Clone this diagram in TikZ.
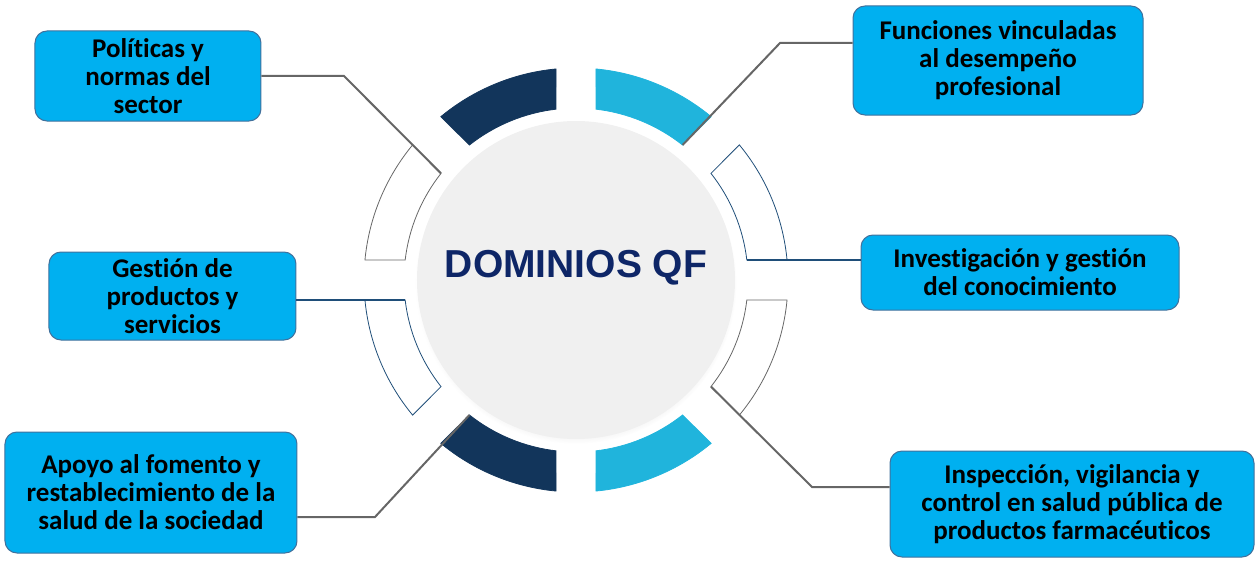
\documentclass[tikz,border=0pt]{standalone}
\usepackage{fontspec}
\setmainfont{Carlito}[Ligatures={NoCommon}]
\newfontfamily\titlefont{Liberation Sans}
\usetikzlibrary{shadows}
\definecolor{boxblue}{HTML}{00B0F0}
\definecolor{boxline}{HTML}{41719C}
\definecolor{darkseg}{HTML}{12355B}
\definecolor{lightseg}{HTML}{20B4DC}
\definecolor{navytext}{HTML}{0E2667}
\definecolor{blueline}{HTML}{1F4E79}
\definecolor{grayline}{HTML}{666666}

\begin{document}
\begin{tikzpicture}[x=1pt, y=1pt,
  main/.style = {draw=boxline, line width=1pt, fill=boxblue, rounded corners=12pt, align=center, font=\fontsize{27}{28}\selectfont\bfseries, inner sep=0pt},
  gline/.style = {draw=grayline, line width=2pt},
  bline/.style = {draw=blueline, line width=2pt}]
\useasboundingbox (-576,-280) rectangle (679,280);

% ring of eight segments
\foreach \k/\fillc/\linec in {0/white/blueline, 1/lightseg/lightseg, 2/darkseg/darkseg, 3/white/grayline,
    4/white/blueline, 5/darkseg/darkseg, 6/lightseg/lightseg, 7/white/grayline}
  \filldraw[fill=\fillc, draw=\linec, line width=0.8pt] ({45*\k+5.4}:212) arc ({45*\k+5.4}:{45*\k+39.6}:212)
    -- ({45*\k+38.3}:172) arc ({45*\k+38.3}:{45*\k+6.7}:172) -- cycle;

% centre
\node[circle, fill=black!6, minimum size=318pt, circular drop shadow={shadow scale=1.01, shadow xshift=0pt, shadow yshift=-3pt, opacity=0.25}] (0) at (0,0) {};
\node[font=\titlefont\fontsize{39}{39}\selectfont\bfseries, text=navytext] (t) at (0,12) {DOMINIOS QF};

% segment corners
\coordinate (p1) at (141.7:172);
\coordinate (p2) at (51.7:172);
\coordinate (p3) at (186.7:172);
\coordinate (p4) at (6.7:172);
\coordinate (p5) at (231.7:172);
\coordinate (p6) at (321.7:172);

\node[main, minimum width=226pt, minimum height=90pt] (1) at (-428,204) {Políticas y\\normas del\\sector};
\node[main, minimum width=290pt, minimum height=109pt] (2) at (422,219.5) {Funciones vinculadas\\al desempeño\\profesional};
\node[main, minimum width=247pt, minimum height=88pt] (3) at (-403.5,-16) {Gestión de\\productos y\\servicios};
\node[main, minimum width=318pt, minimum height=75pt] (4) at (444,7.5) {Investigación y gestión\\del conocimiento};
\node[main, minimum width=292pt, minimum height=121pt] (5) at (-425,-212.5) {Apoyo al fomento y\\restablecimiento de la\\salud de la sociedad};
\node[main, minimum width=364pt, minimum height=106pt] (6) at (496,-224) {Inspección, vigilancia y\\control en salud pública de\\productos farmacéuticos};

\draw[gline] (1.east) -- (-232,204) -- (p1);
\draw[gline] (2.west |- 0,237) -- (204,237) -- (p2);
\draw[bline] (3.east |- p3) -- (p3);
\draw[bline] (p4) -- (p4 -| 4.west);
\draw[gline] (5.east |- 0,-237) -- (-201,-237) -- (p5);
\draw[gline] (p6) -- (236,-207) -- (6.west |- 0,-207);
\end{tikzpicture}
\end{document}
